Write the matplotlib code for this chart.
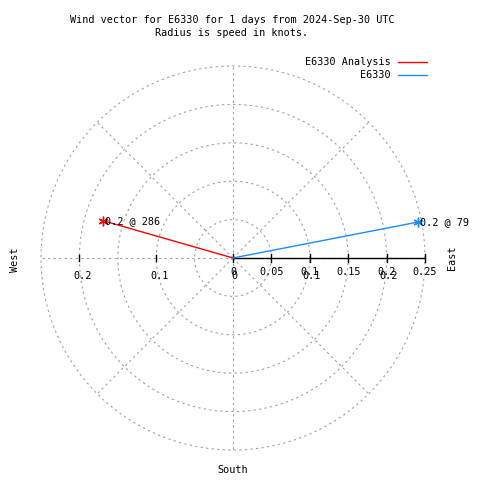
import numpy as np
import matplotlib
matplotlib.use("Agg")
import matplotlib.pyplot as plt

# ---- data ----
series_names = ["E6330 Analysis", "E6330"]
speeds = [0.176, 0.245]          # knots
directions = [286, 79]           # degrees (compass)
series_colors = ["#ff0000", "#1a8cff"]
point_labels = ["0.2 @ 286", "0.2 @ 79"]
ring_radii = [0.05, 0.10, 0.15, 0.20, 0.25]
spoke_angles = [0, 45, 90, 135, 180, 225, 270, 315]
right_ticks = [0, 0.05, 0.10, 0.15, 0.20, 0.25]
right_tick_labels = ["0", "0.05", "0.1", "0.15", "0.2", "0.25"]
left_ticks = [0.1, 0.2]
left_tick_labels = ["0.1", "0.2"]
title_lines = ["Wind vector for E6330 for 1 days from 2024-Sep-30 UTC",
               "Radius is speed in knots."]

# ---- layout (pixel frame) ----
W, H = 480, 480
CX, CY = 233, 258
SCALE = 768.0  # pixels per knot

def P(px, py):
    """pixel -> data coordinates"""
    return (px - CX) / SCALE, (CY - py) / SCALE

FONT = dict(family="DejaVu Sans Mono", fontsize=7.3, color="black")
GRID = "#a0a0a0"

fig = plt.figure(figsize=(W / 100, H / 100), dpi=100)
ax = fig.add_axes([0, 0, 1, 1])
x0, y1 = P(0, 0)
x1, y0 = P(W, H)
ax.set_xlim(x0, x1)
ax.set_ylim(y0, y1)
ax.set_aspect("equal")
ax.axis("off")

# rings
t = np.linspace(0, 2 * np.pi, 400)
for r in ring_radii:
    ax.plot(r * np.cos(t), r * np.sin(t), color=GRID, lw=0.8,
            dashes=(2, 3), zorder=1)
# spokes
rmax = max(ring_radii)
for a in spoke_angles:
    ar = np.deg2rad(a)
    ax.plot([0, rmax * np.cos(ar)], [0, rmax * np.sin(ar)], color=GRID,
            lw=0.8, dashes=(2, 3), zorder=1)

# right axis (solid) with ticks
tk = 4 / SCALE
ax.plot([0, max(right_ticks)], [0, 0], color="black", lw=1.0, zorder=3)
for v, lab in zip(right_ticks, right_tick_labels):
    ax.plot([v, v], [-tk, tk], color="black", lw=1.0, zorder=3)
    ax.text(v, P(0, 272)[1], lab, ha="center", va="center", **FONT)
# overlapping secondary labels (mirror of left axis)
for v, lab in zip([0] + left_ticks, ["0"] + left_tick_labels):
    ax.text(v + 1.5 / SCALE, P(0, 276)[1], lab, ha="center", va="center", **FONT)
# left axis ticks
for v, lab in zip(left_ticks, left_tick_labels):
    ax.plot([-v, -v], [-3 / SCALE, 3 / SCALE], color="black", lw=1.0, zorder=3)
    ax.text(-v + 3 / SCALE, P(0, 276)[1], lab, ha="center", va="center", **FONT)

# vectors
for s, d, c, lab in zip(speeds, directions, series_colors, point_labels):
    dr = np.deg2rad(d)
    ex, ey = s * np.sin(dr), s * np.cos(dr)
    ax.plot([0, ex], [0, ey], color=c, lw=1.0, zorder=4)
    ax.plot([ex], [ey], marker=(6, 2, 0), color=c, ms=7, mew=1.0, zorder=5)
    ax.text(ex + 2 / SCALE, ey, lab, ha="left", va="center", zorder=6, **FONT)

# compass labels
ax.text(*P(452, 258), "East", rotation=90, ha="center", va="center", **FONT)
ax.text(*P(15, 260), "West", rotation=90, ha="center", va="center", **FONT)
ax.text(*P(233, 470), "South", ha="center", va="center", **FONT)

# titles
ax.text(*P(232, 20), title_lines[0], ha="center", va="center", **FONT)
ax.text(*P(232, 33), title_lines[1], ha="center", va="center", **FONT)

# legend
for i, (name, c) in enumerate(zip(series_names, series_colors)):
    py = 62 + 13 * i
    ax.text(*P(391, py), name, ha="right", va="center", **FONT)
    lx0, ly = P(398, py)
    lx1, _ = P(427, py)
    ax.plot([lx0, lx1], [ly, ly], color=c, lw=1.0)

fig.savefig("out.png", dpi=100)
